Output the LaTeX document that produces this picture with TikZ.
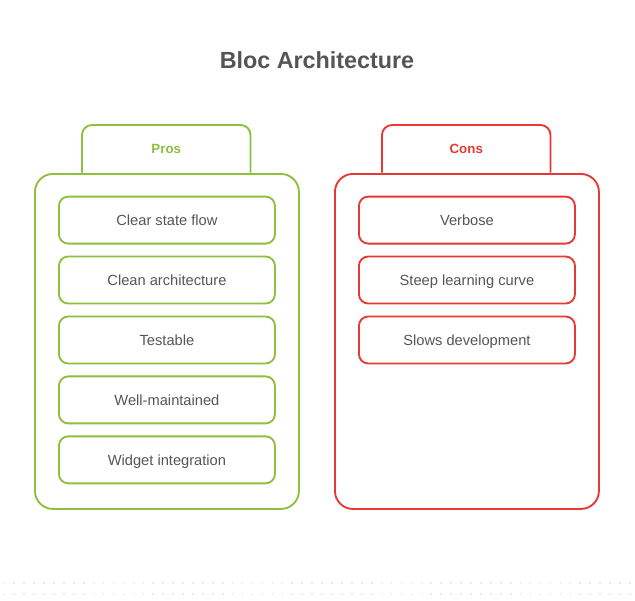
\documentclass[tikz,border=0pt]{standalone}
\usepackage{fontspec}
\setmainfont{Liberation Sans}
\usetikzlibrary{positioning}
\definecolor{prosgreen}{RGB}{141,192,63}
\definecolor{consred}{RGB}{229,57,53}
\definecolor{txtgray}{RGB}{85,85,85}

\begin{document}
\begin{tikzpicture}[x=0.75pt,y=-0.75pt,
    tabtxt/.style={text=#1,font=\fontsize{10}{12}\selectfont\bfseries,minimum width=126pt,minimum height=35.25pt,anchor=north west,inner sep=0pt},
    tabline/.style={draw=#1,line width=1.4pt,rounded corners=7.5pt},
    box/.style={draw=#1,fill=white,line width=1.4pt,rounded corners=13.5pt,minimum width=198pt,minimum height=251.25pt,inner sep=0pt},
    item/.style={draw=#1,line width=1.4pt,rounded corners=7pt,minimum width=162pt,minimum height=35.25pt,inner sep=0pt,text height=9.5pt,text depth=1.3pt,text=txtgray,font=\fontsize{11}{13}\selectfont}]
  \useasboundingbox (0,0) rectangle (635,600);

  \node[text=txtgray,font=\fontsize{17.5}{20}\selectfont\bfseries] (title) at (317,60) {Bloc Architecture};

  %pros
  \node[tabtxt=prosgreen] (ptab) at (82,125) {Pros};
  \draw[tabline=prosgreen] (ptab.south west) -- (ptab.north west) -- (ptab.north east) -- (ptab.south east);
  \node[box=prosgreen,anchor=north west] (pbox) at (34,173) {};
  \node[item=prosgreen,below=17pt of pbox.north] (p1) {Clear state flow};
  \node[item=prosgreen,below=8.3pt of p1] (p2) {Clean architecture};
  \node[item=prosgreen,below=8.3pt of p2] (p3) {Testable};
  \node[item=prosgreen,below=8.3pt of p3] (p4) {Well-maintained};
  \node[item=prosgreen,below=8.3pt of p4] (p5) {Widget integration};

  %cons
  \node[tabtxt=consred] (ctab) at (382,125) {Cons};
  \draw[tabline=consred] (ctab.south west) -- (ctab.north west) -- (ctab.north east) -- (ctab.south east);
  \node[box=consred,anchor=north west] (cbox) at (334,173) {};
  \node[item=consred,below=17pt of cbox.north] (c1) {Verbose};
  \node[item=consred,below=8.3pt of c1] (c2) {Steep learning curve};
  \node[item=consred,below=8.3pt of c2] (c3) {Slows development};

  %dots
  \foreach \i in {0,...,63}
    \foreach \y in {582,593}
      \fill[black!8] (3.5+\i*9.93,\y) rectangle ++(1.6,1.6);
\end{tikzpicture}
\end{document}
